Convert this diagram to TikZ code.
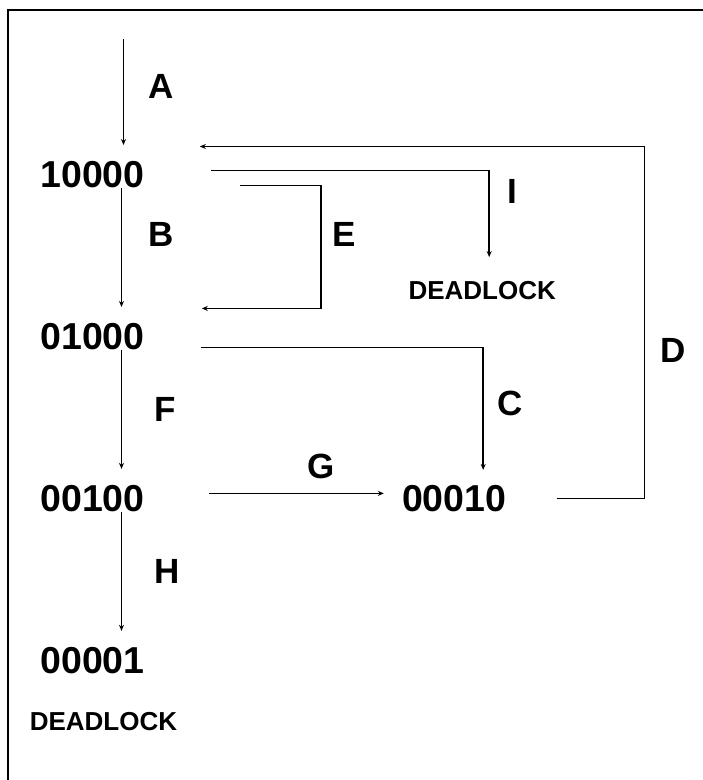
\documentclass[tikz,border=0pt]{standalone}
\usepackage{fontspec}
\setmainfont{Liberation Sans}
\usetikzlibrary{arrows.meta,positioning}

\begin{document}
\begin{tikzpicture}[
  x=1pt, y=1pt,
  node distance=135pt,
  state/.style={inner sep=0pt, font=\fontsize{37.5}{40}\selectfont\bfseries},
  dead/.style={inner sep=0pt, font=\fontsize{26}{28}\selectfont\bfseries},
  lbl/.style={inner sep=0pt, font=\fontsize{35}{38}\selectfont\bfseries},
  arr/.style={-{Stealth[length=6pt,width=5pt]}, line width=1.4pt}
]
\useasboundingbox (0,0) rectangle (703,780);
\draw[line width=2.2pt] (8,-20) -- (8,770) -- (720,770);

\node[state] (s10000) at (92.5,605.5) {10000};
\node[state, below=of s10000] (s01000) {01000};
\node[state, below=of s01000] (s00100) {00100};
\node[state, below=of s00100] (s00001) {00001};
\node[dead, below=38pt of s00001, xshift=11pt] (dl2) {DEADLOCK};
\node[state, right=257pt of s00100] (s00010) {00010};
\node[dead, above=185pt of s00010, xshift=28pt] (dl1) {DEADLOCK};
\coordinate[above=122pt of s10000.north, xshift=31pt] (entry);

\draw[arr] (entry) -- node[lbl, pos=0.45, right=24pt]{A} ([xshift=31pt,yshift=16pt]s10000.north);
\draw[arr] ([xshift=29pt]s10000.south) -- node[lbl, pos=0.39, right=26pt]{B} ([xshift=29pt,yshift=16pt]s01000.north);
\draw[arr] ([xshift=29pt]s01000.south) -- node[lbl, right=32pt]{F} ([xshift=29pt,yshift=16pt]s00100.north);
\draw[arr] ([xshift=29pt]s00100.south) -- node[lbl, right=32pt]{H} ([xshift=29pt,yshift=16pt]s00001.north);
\draw[arr] ([xshift=95pt,yshift=-11pt]s10000.east) -- ++(81,0) |- node[lbl, pos=0.2, right=11pt]{E} ([xshift=57pt,yshift=28pt]s01000.east);
\draw[arr] ([xshift=66pt,yshift=4pt]s10000.east) -| node[lbl, pos=0.62, right=18pt]{I} ([xshift=7pt,yshift=24pt]dl1.north);
\draw[arr] ([xshift=56pt,yshift=-11pt]s01000.east) -| node[lbl, pos=0.73, right=14pt]{C} ([xshift=29pt,yshift=15pt]s00010.north);
\draw[arr] ([xshift=64pt,yshift=5pt]s00100.east) -- node[lbl, pos=0.64, above=14pt]{G} ([xshift=-18pt,yshift=5pt]s00010.west);
\draw[arr] ([xshift=50pt]s00010.east) -- ++(88,0) |- node[lbl, pos=0.21, right=15pt]{D} ([xshift=55pt,yshift=28pt]s10000.east);
\end{tikzpicture}
\end{document}
